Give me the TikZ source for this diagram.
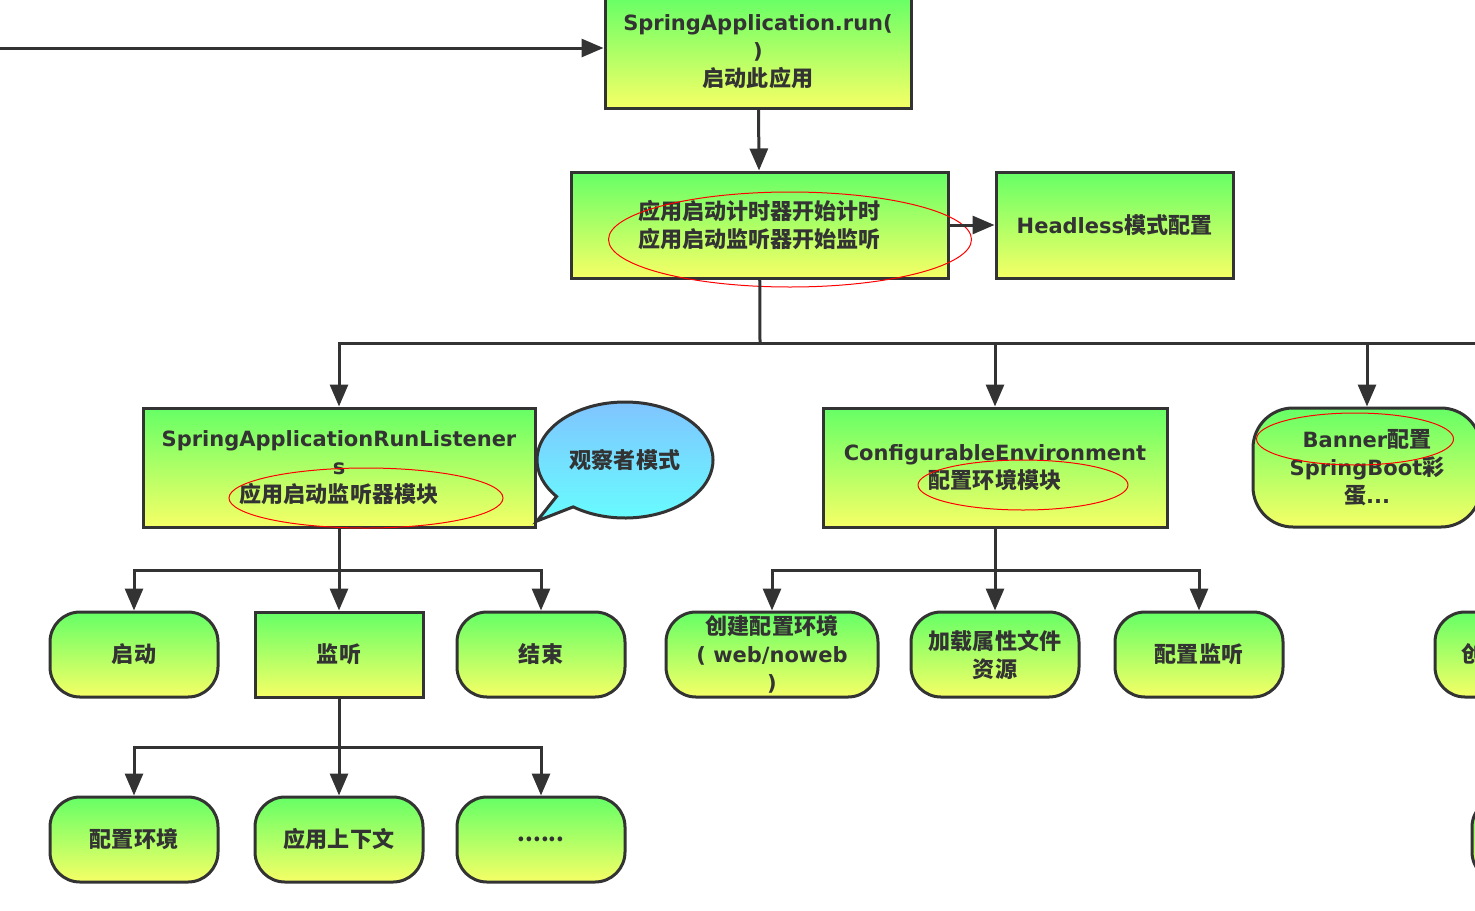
\documentclass[tikz,border=0pt]{standalone}
\usepackage{fontspec}
\setmainfont{Noto Sans CJK SC}[Scale=1.05]
\newfontfamily\lat{DejaVu Sans}
\usetikzlibrary{shapes.geometric,shapes.callouts,arrows.meta}
\definecolor{ink}{HTML}{333333}
\definecolor{topgreen}{HTML}{66FF66}
\definecolor{botyellow}{HTML}{F6FF66}
\definecolor{topblue}{HTML}{80C4FF}
\definecolor{botcyan}{HTML}{66FFFF}

\begin{document}
\begin{tikzpicture}
	[x=0.5pt, y=-0.5pt,
	gbox/.style = {draw=ink, line width=1.5pt, top color=topgreen, bottom color=botyellow,
		align=center, inner sep=0pt, text=ink, font=\bfseries\fontsize{10.5}{14}\selectfont},
	pill/.style = {gbox, rounded corners=15pt, minimum width=84pt, minimum height=42.5pt},
	sq/.style = {gbox, minimum width=84pt, minimum height=42.5pt},
	redring/.style = {draw=red, line width=0.5pt, ellipse, inner sep=0pt},
	flow/.style = {draw=ink, line width=1.5pt, -{Triangle[length=11pt,width=9pt]}},
	wire/.style = {draw=ink, line width=1.5pt}]
	\useasboundingbox (0,0) rectangle (1475,910);
	\clip (0,0) rectangle (1475,910);
	\node[gbox, minimum width=153pt, minimum height=56pt] (run) at (758,52) {{\lat SpringApplication.run(}\\{\lat )}\\启动此应用};
	\node[gbox, minimum width=188.5pt, minimum height=53pt] (timer) at (759.5,225) {应用启动计时器开始计时\\应用启动监听器开始监听};
	\node[gbox, minimum width=118.5pt, minimum height=53pt] (head) at (1114.5,225) {{\lat Headless}模式配置};
	\node[gbox, minimum width=196pt, minimum height=59.5pt] (listen) at (339,467.5) {{\lat SpringApplicationRunListener}\\{\lat s}\\应用启动监听器模块};
	\node[ellipse callout, draw=ink, line width=1.5pt, top color=topblue, bottom color=botcyan,
		minimum width=88pt, minimum height=58pt, inner sep=0pt, text=ink,
		font=\bfseries\fontsize{10.5}{14}\selectfont,
		callout absolute pointer={(537,521)}] (observer) at (625,460) {观察者模式};
	\node[gbox, minimum width=172pt, minimum height=59.5pt] (config) at (995,467.5) {{\lat ConfigurableEnvironment}\\配置环境模块};
	\node[gbox, rounded corners=20pt, minimum width=114pt, minimum height=59.5pt] (banner) at (1367,467.5) {{\lat Banner}配置\\{\lat SpringBoot}彩\\蛋{\lat ...}};
	\node[pill] (start) at (134,654.5) {启动};
	\node[sq] (listening) at (339,654.5) {监听};
	\node[pill] (finish) at (541,654.5) {结束};
	\node[pill, minimum width=106pt] (create) at (772,654.5) {创建配置环境\\{\lat ( web/noweb}\\{\lat )}};
	\node[pill] (load) at (995,654.5) {加载属性文件\\资源};
	\node[pill] (cfglisten) at (1199,654.5) {配置监听};
	\node[pill, text width=58pt, align=left] (cutoff) at (1519,654.5) {创};
	\node[pill] (env) at (134,839.5) {配置环境};
	\node[pill] (context) at (339,839.5) {应用上下文};
	\node[pill] (more) at (541,839.5) {......};
	\node[pill] (cutoff2) at (1556,839.5) {};
	\node[redring, minimum width=181.5pt, minimum height=47.5pt] (ring1) at (790,239.5) {};
	\node[redring, minimum width=137pt, minimum height=30pt] (ring2) at (366,498) {};
	\node[redring, minimum width=105pt, minimum height=25pt] (ring3) at (1023,485) {};
	\node[redring, minimum width=98.5pt, minimum height=26pt] (ring4) at (1355,439) {};
	\coordinate (in) at (0,48);
	\coordinate (b1) at (760,343);
	\coordinate (edge) at (1480,343);
	\coordinate (b2) at (339,570);
	\coordinate (b3) at (995,570);
	\coordinate (b4) at (339,747);
	\draw[flow] (in) -- (in -| run.west);
	\draw[flow] (run) -- (timer);
	\draw[flow] (timer) -- (head);
	\draw[wire] (timer) -- (b1);
	\draw[wire] (b1) -- (edge);
	\draw[flow] (b1) -| (listen.north);
	\draw[flow] (b1) -| (config.north);
	\draw[flow] (b1) -| (banner.north);
	\draw[wire] (listen) -- (b2);
	\draw[flow] (b2) -| (start.north);
	\draw[flow] (b2) -- (listening);
	\draw[flow] (b2) -| (finish.north);
	\draw[wire] (config) -- (b3);
	\draw[flow] (b3) -| (create.north);
	\draw[flow] (b3) -- (load);
	\draw[flow] (b3) -| (cfglisten.north);
	\draw[wire] (listening) -- (b4);
	\draw[flow] (b4) -| (env.north);
	\draw[flow] (b4) -- (context);
	\draw[flow] (b4) -| (more.north);
\end{tikzpicture}
\end{document}
